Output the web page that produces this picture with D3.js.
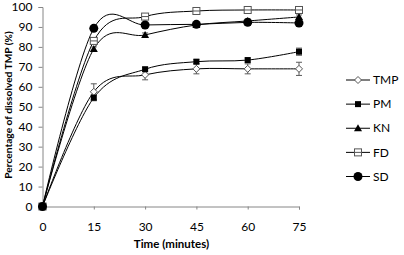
<!DOCTYPE html>
<html>
<head>
<meta charset="utf-8">
<script src="https://cdn.jsdelivr.net/npm/d3@7"></script>
<style>
  body { margin: 0; background: #fff; }
  svg { display: block; font-family: Lato, sans-serif; }
</style>
</head>
<body>
<div id="chart"></div>
<script>
'use strict';

// ── Data ──────────────────────────────────────────────
const times = [0, 15, 30, 45, 60, 75];
const xTicks = [0, 15, 30, 45, 60, 75];
const yTicks = [0, 10, 20, 30, 40, 50, 60, 70, 80, 90, 100];

const tmp = [0, 57.5, 66, 69, 69, 69];
const tmpErr = [0, 4, 2.5, 2.5, 2.5, 3.3];
const pm = [0, 54.5, 68.8, 72.6, 73.4, 77.6];
const pmErr = [0, 1.5, 1, 1, 1, 1.8];
const kn = [0, 79, 86, 91, 93, 95];
const knErr = [0, 1, 1, 1, 1, 1];
const fd = [0, 83, 95.2, 98, 98.5, 98.5];
const fdErr = [0, 1.5, 1, 1, 1, 1];
const sd = [0, 89.3, 91, 91.3, 92.3, 92];
const sdErr = [0, 1, 1, 1, 1.5, 1.5];

const seriesNames = ['TMP', 'PM', 'KN', 'FD', 'SD'];

const series = [
  { name: 'TMP', values: tmp, err: tmpErr, marker: 'diamond' },
  { name: 'PM',  values: pm,  err: pmErr,  marker: 'square' },
  { name: 'KN',  values: kn,  err: knErr,  marker: 'triangle' },
  { name: 'FD',  values: fd,  err: fdErr,  marker: 'opensquare' },
  { name: 'SD',  values: sd,  err: sdErr,  marker: 'circle' }
];

// ── Layout ────────────────────────────────────────────
const W = 404, H = 255;
const svg = d3.select('#chart').append('svg')
  .attr('width', W).attr('height', H);

const x = d3.scaleLinear().domain([0, 75]).range([42.5, 299]);
const y = d3.scaleLinear().domain([0, 100]).range([206.5, 7]);

const axisColour = '#868686';

// ── Axes ──────────────────────────────────────────────
const yAxis = svg.append('g')
  .attr('transform', `translate(${x(0)},0)`)
  .call(d3.axisLeft(y).tickValues(yTicks).tickSize(4).tickPadding(6));
yAxis.select('.domain').attr('stroke', axisColour);
yAxis.selectAll('.tick line').attr('stroke', axisColour);
yAxis.selectAll('.tick text')
  .attr('font-size', 12).attr('fill', '#000')
  .attr('font-family', 'Lato, sans-serif');

const xAxis = svg.append('g')
  .attr('transform', `translate(0,${y(0)})`)
  .call(d3.axisBottom(x).tickValues(xTicks).tickSize(3).tickPadding(13));
xAxis.select('.domain').attr('stroke', axisColour);
xAxis.selectAll('.tick line').attr('stroke', axisColour);
xAxis.selectAll('.tick text')
  .attr('font-size', 12).attr('fill', '#000')
  .attr('font-family', 'Lato, sans-serif');

// Axis titles
svg.append('text')
  .attr('x', 171.5).attr('y', 248)
  .attr('text-anchor', 'middle')
  .attr('font-size', 11.5).attr('font-weight', 700)
  .text('Time (minutes)');

svg.append('text')
  .attr('transform', 'translate(12,105) rotate(-90)')
  .attr('text-anchor', 'middle')
  .attr('font-size', 10.2).attr('font-weight', 700)
  .text('Percentage of dissolved TMP (%)');

// ── Lines ─────────────────────────────────────────────
const line = d3.line()
  .x((d, i) => x(times[i]))
  .y(d => y(d))
  .curve(d3.curveCatmullRom.alpha(0));

const plot = svg.append('g');

series.forEach(s => {
  plot.append('path')
    .attr('d', line(s.values))
    .attr('fill', 'none')
    .attr('stroke', '#000')
    .attr('stroke-width', 1);
});

// Error bars
series.forEach(s => {
  s.values.forEach((v, i) => {
    const e = s.err[i];
    if (!e) return;
    const cx = x(times[i]);
    const g = plot.append('g').attr('stroke', '#595959').attr('stroke-width', 1);
    g.append('line').attr('x1', cx).attr('x2', cx).attr('y1', y(v - e)).attr('y2', y(v + e));
    g.append('line').attr('x1', cx - 3).attr('x2', cx + 3).attr('y1', y(v - e)).attr('y2', y(v - e));
    g.append('line').attr('x1', cx - 3).attr('x2', cx + 3).attr('y1', y(v + e)).attr('y2', y(v + e));
  });
});

// ── Markers ───────────────────────────────────────────
function drawMarker(g, type, cx, cy) {
  if (type === 'diamond') {
    g.append('path')
      .attr('d', `M${cx},${cy - 3.5}L${cx + 3.5},${cy}L${cx},${cy + 3.5}L${cx - 3.5},${cy}Z`)
      .attr('fill', '#fff').attr('stroke', '#555').attr('stroke-width', 1);
  } else if (type === 'square') {
    g.append('rect')
      .attr('x', cx - 3).attr('y', cy - 3).attr('width', 6).attr('height', 6)
      .attr('fill', '#000');
  } else if (type === 'triangle') {
    g.append('path')
      .attr('d', `M${cx},${cy - 4}L${cx + 4},${cy + 3}L${cx - 4},${cy + 3}Z`)
      .attr('fill', '#000');
  } else if (type === 'opensquare') {
    g.append('rect')
      .attr('x', cx - 3.5).attr('y', cy - 3.5).attr('width', 7).attr('height', 7)
      .attr('fill', '#fff').attr('stroke', '#555').attr('stroke-width', 1);
    g.append('line')
      .attr('x1', cx - 3.5).attr('x2', cx + 3.5).attr('y1', cy).attr('y2', cy)
      .attr('stroke', '#555').attr('stroke-width', 1);
  } else if (type === 'circle') {
    g.append('circle').attr('cx', cx).attr('cy', cy).attr('r', 4.5).attr('fill', '#000');
  }
}

series.forEach(s => {
  const g = plot.append('g');
  s.values.forEach((v, i) => drawMarker(g, s.marker, x(times[i]), y(v)));
});

// ── Legend ────────────────────────────────────────────
const legendY = d3.scalePoint().domain(seriesNames).range([80, 176.5]);
const legend = svg.append('g');
series.forEach(s => {
  const ly = legendY(s.name);
  legend.append('line')
    .attr('x1', 346).attr('x2', 370).attr('y1', ly).attr('y2', ly)
    .attr('stroke', '#000').attr('stroke-width', 1);
  drawMarker(legend, s.marker, 358, ly);
  legend.append('text')
    .attr('x', 373).attr('y', ly).attr('dy', '0.35em')
    .attr('font-size', 12)
    .text(s.name);
});
</script>
</body>
</html>
